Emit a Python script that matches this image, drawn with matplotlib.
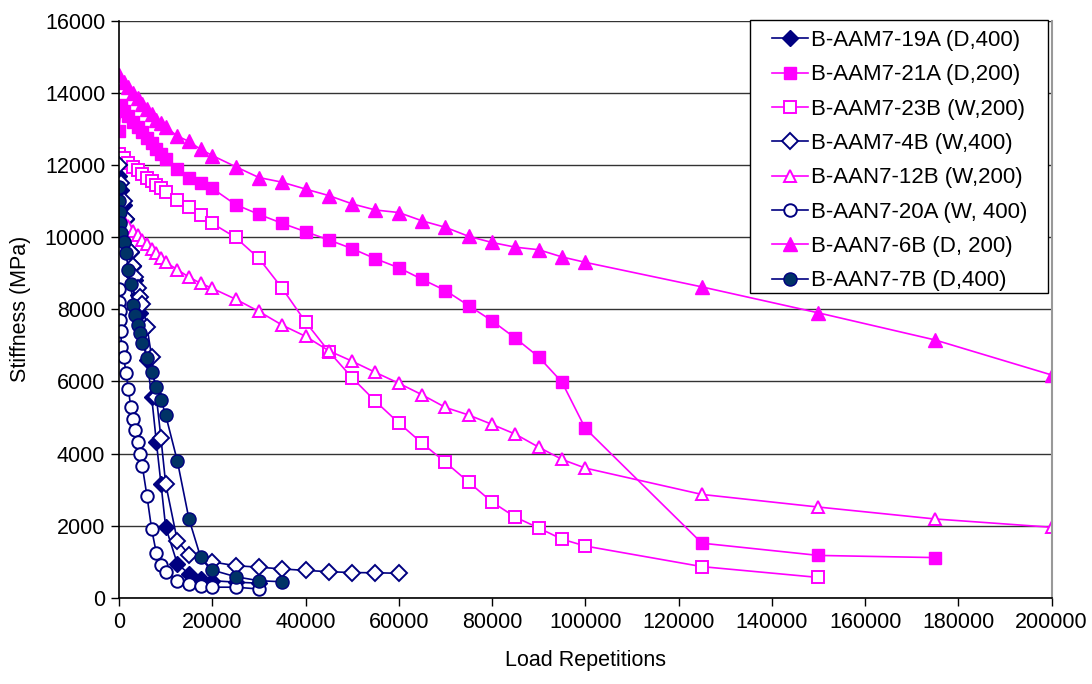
import matplotlib.pyplot as plt
import numpy as np
from matplotlib.patches import Rectangle

plt.rcParams['font.family'] = ['Liberation Sans', 'DejaVu Sans']

# --- data ---
x_19a = [0, 500, 1000, 1500, 2000, 2500, 3000, 3500, 4000, 4500, 5000, 6000, 7000, 8000, 9000, 10000,
         12500, 15000, 17500, 20000, 25000, 30000]
y_19a = [11700, 11300, 10900, 10500, 10050, 9600, 9200, 8800, 8400, 7900, 7400, 6600, 5570, 4330, 3160, 1970,
         950, 670, 540, 480, 440, 410]

x_21a = [0, 500, 1000, 2000, 3000, 4000, 5000, 6000, 7000, 8000, 9000, 10000, 12500, 15000, 17500, 20000,
         25000, 30000, 35000, 40000, 45000, 50000, 55000, 60000, 65000, 70000, 75000, 80000, 85000, 90000,
         95000, 100000, 125000, 150000, 175000]
y_21a = [12950, 13650, 13500, 13350, 13200, 13050, 12900, 12750, 12600, 12450, 12300, 12150, 11900, 11650, 11490,
         11350, 10900, 10630, 10380, 10150, 9920, 9680, 9400, 9150, 8830, 8520, 8100, 7680, 7200, 6680,
         5980, 4700, 1520, 1180, 1120]

x_23b = [0, 1000, 2000, 3000, 4000, 5000, 6000, 7000, 8000, 9000, 10000, 12500, 15000, 17500, 20000, 25000,
         30000, 35000, 40000, 45000, 50000, 55000, 60000, 65000, 70000, 75000, 80000, 85000, 90000, 95000,
         100000, 125000, 150000]
y_23b = [12300, 12180, 12060, 11950, 11850, 11750, 11650, 11550, 11450, 11350, 11250, 11020, 10820, 10600, 10380,
         9990, 9410, 8580, 7650, 6830, 6100, 5450, 4850, 4290, 3760, 3210, 2660, 2240, 1940, 1630,
         1440, 870, 570]

x_4b = [0, 500, 1000, 1500, 2000, 2500, 3000, 3500, 4000, 4500, 5000, 6000, 7000, 8000, 9000, 10000, 12500,
        15000, 20000, 25000, 30000, 35000, 40000, 45000, 50000, 55000, 60000]
y_4b = [12000, 11500, 11000, 10500, 10000, 9600, 9200, 8900, 8600, 8350, 8140, 7510, 6680, 5580, 4420, 3170, 1590,
        1200, 1000, 895, 855, 805, 765, 730, 705, 700, 685]

x_12b = [0, 1000, 2000, 3000, 4000, 5000, 6000, 7000, 8000, 9000, 10000, 12500, 15000, 17500, 20000, 25000,
         30000, 35000, 40000, 45000, 50000, 55000, 60000, 65000, 70000, 75000, 80000, 85000, 90000, 95000,
         100000, 125000, 150000, 175000, 200000]
y_12b = [10600, 10450, 10300, 10180, 10050, 9930, 9800, 9680, 9560, 9430, 9300, 9100, 8890, 8720, 8580, 8280,
         7940, 7560, 7250, 6850, 6560, 6250, 5950, 5630, 5280, 5070, 4810, 4540, 4180, 3840,
         3600, 2870, 2520, 2190, 1960]

x_20a = [0, 100, 200, 300, 400, 500, 1000, 1500, 2000, 2500, 3000, 3500, 4000, 4500, 5000, 6000, 7000, 8000,
         9000, 10000, 12500, 15000, 17500, 20000, 25000, 30000]
y_20a = [8550, 8200, 7950, 7700, 7400, 6950, 6680, 6230, 5800, 5300, 4970, 4650, 4330, 4000, 3650, 2820, 1900, 1250,
         910, 730, 470, 390, 330, 300, 300, 250]

x_6b = [0, 1000, 2000, 3000, 4000, 5000, 6000, 7000, 8000, 9000, 10000, 12500, 15000, 17500, 20000, 25000,
        30000, 35000, 40000, 45000, 50000, 55000, 60000, 65000, 70000, 75000, 80000, 85000, 90000, 95000,
        100000, 125000, 150000, 175000, 200000]
y_6b = [14500, 14300, 14150, 14000, 13850, 13700, 13550, 13400, 13250, 13150, 13050, 12800, 12650, 12430, 12260,
        11950, 11650, 11520, 11330, 11150, 10920, 10750, 10680, 10450, 10270, 10020, 9850, 9720, 9650, 9450,
        9300, 8620, 7900, 7150, 6180]

x_7b = [0, 100, 200, 300, 500, 1000, 1500, 2000, 2500, 3000, 3500, 4000, 4500, 5000, 6000, 7000, 8000, 9000,
        10000, 12500, 15000, 17500, 20000, 25000, 30000, 35000]
y_7b = [11400, 11000, 10700, 10400, 10100, 9850, 9550, 9100, 8700, 8110, 7830, 7560, 7330, 7070, 6660, 6260, 5850,
        5500, 5070, 3800, 2190, 1130, 775, 590, 480, 450]

MAG = '#FF00FF'
NAVY = '#000080'
W, H = 1092, 684

fig = plt.figure(figsize=(10.92, 6.84), dpi=100)
ax = fig.add_axes([0.109, 0.1257, 0.854, 0.8443])

ms = 9
ax.plot(x_19a, y_19a, color=NAVY, lw=1.2, marker='D', ms=ms * 0.85, mfc=NAVY, mec=NAVY,
        label='B-AAM7-19A (D,400)')
ax.plot(x_21a, y_21a, color=MAG, lw=1.2, marker='s', ms=ms, mfc=MAG, mec=MAG,
        label='B-AAM7-21A (D,200)')
ax.plot(x_23b, y_23b, color=MAG, lw=1.2, marker='s', ms=ms, mfc='white', mec=MAG, mew=1.4,
        label='B-AAM7-23B (W,200)')
ax.plot(x_4b, y_4b, color=NAVY, lw=1.2, marker='D', ms=ms * 0.85, mfc='white', mec=NAVY, mew=1.4,
        label='B-AAM7-4B (W,400)')
ax.plot(x_12b, y_12b, color=MAG, lw=1.2, marker='^', ms=ms, mfc='white', mec=MAG, mew=1.4,
        label='B-AAN7-12B (W,200)')
ax.plot(x_20a, y_20a, color=NAVY, lw=1.2, marker='o', ms=ms, mfc='white', mec=NAVY, mew=1.4,
        label='B-AAN7-20A (W, 400)')
ax.plot(x_6b, y_6b, color=MAG, lw=1.2, marker='^', ms=ms * 1.05, mfc=MAG, mec=MAG,
        label='B-AAN7-6B (D, 200)')
ax.plot(x_7b, y_7b, color=NAVY, lw=1.2, marker='o', ms=ms * 1.05, mfc='#003366', mec=NAVY,
        label='B-AAN7-7B (D,400)')

ax.set_xlim(0, 200000)
ax.set_ylim(0, 16000)
ax.set_xticks(np.arange(0, 200001, 20000))
ax.set_yticks(np.arange(0, 16001, 2000))
ax.tick_params(axis='both', direction='out', length=6, width=1, labelsize=15.5, pad=4)
ax.yaxis.grid(True, color='#333333', lw=1)
ax.set_axisbelow(True)
ax.spines['top'].set_visible(False)
ax.spines['right'].set_color('#999999')
ax.spines['right'].set_linewidth(1.5)
ax.spines['left'].set_linewidth(1.2)
ax.spines['bottom'].set_linewidth(1.2)

ax.set_xlabel('Load Repetitions', fontsize=15.5, labelpad=12)
ax.set_ylabel('Stiffness (MPa)', fontsize=15.5, labelpad=10)

# legend box drawn separately so the inner padding matches
box = Rectangle((750 / W, 1 - 293 / H), 298 / W, 273 / H, transform=fig.transFigure,
                facecolor='white', edgecolor='black', lw=1, zorder=5, clip_on=False)
ax.add_patch(box)
leg = ax.legend(loc='upper left', bbox_to_anchor=(772 / W, 1 - 30 / H),
                bbox_transform=fig.transFigure, fontsize=16, frameon=False,
                handlelength=1.6, handletextpad=0.15, labelspacing=0.6, borderpad=0,
                borderaxespad=0)
leg.set_zorder(6)

fig.savefig('out.png', dpi=100)
